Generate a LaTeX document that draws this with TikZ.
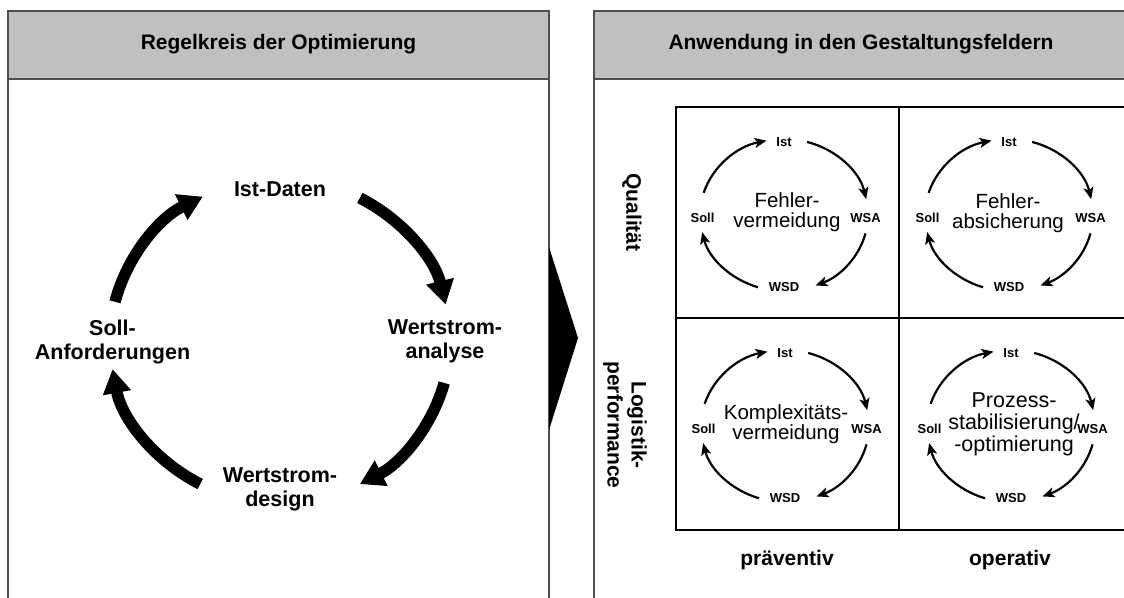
\documentclass[tikz,border=0pt]{standalone}
\usepackage{fontspec}
\setmainfont{Liberation Sans}
\usetikzlibrary{arrows.meta}
\definecolor{headgray}{HTML}{C0C0C0}
\definecolor{framegray}{HTML}{505050}

% one small control loop: #1 name, #2 centre, #3 position of the field text, #4 field text, #5 field style
\newcommand{\miniloop}[5]{%
  \coordinate (#1) at #2;
  \node[small] (#1-ist)  at ([shift={(0pt,73pt)}]#1)      {Ist};
  \node[small] (#1-wsa)  at ([shift={(81.5pt,-3pt)}]#1)   {WSA};
  \node[small] (#1-wsd)  at ([shift={(0pt,-72.5pt)}]#1)   {WSD};
  \node[small] (#1-soll) at ([shift={(-81.5pt,-3pt)}]#1)  {Soll};
  \node[#5] (#1-txt) at #3 {#4};
  \draw[cyc] ([shift={(163:84pt and 76pt)}]#1)  arc[start angle=163,  end angle=102,  x radius=84pt, y radius=76pt];
  \draw[cyc] ([shift={(74:84pt and 76pt)}]#1)   arc[start angle=74,   end angle=12,   x radius=84pt, y radius=76pt];
  \draw[cyc] ([shift={(-14:84pt and 76pt)}]#1)  arc[start angle=-14,  end angle=-68,  x radius=84pt, y radius=76pt];
  \draw[cyc] ([shift={(-108:84pt and 76pt)}]#1) arc[start angle=-108, end angle=-167, x radius=84pt, y radius=76pt];
}

\begin{document}
\begin{tikzpicture}[x=1pt,y=1pt,
  panel/.style={draw=framegray,line width=1.5pt},
  head/.style={panel,fill=headgray},
  headtext/.style={font=\bfseries\fontsize{21}{24}\selectfont,anchor=base,inner sep=0pt},
  biglabel/.style={font=\bfseries\fontsize{21.5}{24}\selectfont,align=center,inner sep=0pt},
  bigarrow/.style={line width=11.5pt,-{Triangle[length=24pt,width=27pt]}},
  cyc/.style={line width=2.2pt,-{Stealth[length=12pt,width=10pt,inset=3pt]}},
  small/.style={font=\bfseries\fontsize{13}{15}\selectfont,inner sep=0pt},
  field/.style={font=\fontsize{20.5}{20}\selectfont,align=center,inner sep=0pt},
  fieldthree/.style={font=\fontsize{21.5}{22}\selectfont,align=center,inner sep=0pt},
  axis/.style={font=\bfseries\fontsize{21}{24}\selectfont,align=center,inner sep=0pt},
  grid/.style={draw=black,line width=2pt},
]
\useasboundingbox (0,0) rectangle (1124,597);
\clip (0,0) rectangle (1124,597);

% ---------- left panel: control loop of the optimisation ----------
\draw[panel] (8,-10) rectangle (549,518);
\draw[head] (8,518) rectangle (549,586);
\node[headtext] (hl) at (278.5,547) {Regelkreis der Optimierung};

\coordinate (L) at (280,256);
\node[biglabel] (ist)  at (280,407.6)   {Ist-Daten};
\node[biglabel] (wsa)  at (445,255.5)   {Wertstrom-\\analyse};
\node[biglabel] (wsd)  at (280,107.5)   {Wertstrom-\\design};
\node[biglabel] (soll) at (112.5,255.5) {Soll-\\Anforderungen};

\draw[bigarrow] ([shift={(166:170pt and 162pt)}]L)  arc[start angle=166,  end angle=117,  x radius=170pt, y radius=162pt];
\draw[bigarrow] ([shift={(62:170pt and 162pt)}]L)   arc[start angle=62,   end angle=13,   x radius=170pt, y radius=162pt];
\draw[bigarrow] ([shift={(-15:170pt and 162pt)}]L)  arc[start angle=-15,  end angle=-62,  x radius=170pt, y radius=162pt];
\draw[bigarrow] ([shift={(-118:170pt and 162pt)}]L) arc[start angle=-118, end angle=-170, x radius=170pt, y radius=162pt];

% ---------- transition wedge ----------
\fill[black] (549,350) -- (578,259) -- (549,167) -- cycle;

% ---------- right panel: application in the design fields ----------
\draw[panel] (594,-10) rectangle (1135,518);
\draw[head] (594,518) rectangle (1135,586);
\node[headtext] (hr) at (861,547) {Anwendung in den Gestaltungsfeldern};

\draw[grid] (676,67) rectangle (1135,490);
\draw[grid] (899,67) -- (899,490);
\draw[grid] (676,279) -- (1135,279);

\node[axis,rotate=-90] (qual) at (632,384.5) {Qualität};
\node[axis,rotate=-90] (logi) at (625,172)   {Logistik-\\performance};
\node[axis,anchor=base] (prae) at (787,32)  {präventiv};
\node[axis,anchor=base] (oper) at (1010,32) {operativ};

\miniloop{fa}{(784,382)}{(787,385)}{Fehler-\\vermeidung}{field}
\miniloop{fb}{(1009,382)}{(1008,384)}{Fehler-\\absicherung}{field}
\miniloop{fc}{(785,171)}{(786,172.5)}{Komplexitäts-\\vermeidung}{field}
\miniloop{fd}{(1011,171)}{(1014,173)}{Prozess-\\stabilisierung/\\-optimierung}{fieldthree}
\end{tikzpicture}
\end{document}
